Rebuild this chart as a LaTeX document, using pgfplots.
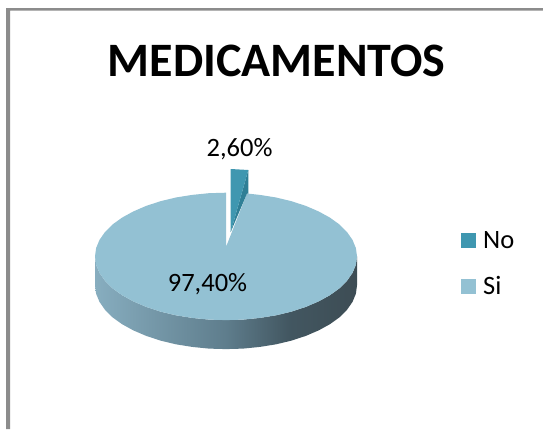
\documentclass[border=0pt]{standalone}
\usepackage{pgfplots}
\usepackage{fontspec}
\setmainfont{Carlito}
\pgfplotsset{compat=1.18}
\definecolor{cborder}{HTML}{8C8C8C}
\definecolor{cno}{HTML}{3F97B0}
\definecolor{cnodark}{HTML}{2F7F96}
\definecolor{csi}{HTML}{93C1D3}
\pgfdeclarehorizontalshading{piesidegrad}{100bp}{
  rgb(0bp)=(0.53,0.68,0.75);
  rgb(25bp)=(0.53,0.68,0.75);
  rgb(50bp)=(0.37,0.49,0.55);
  rgb(62bp)=(0.26,0.34,0.38);
  rgb(75bp)=(0.24,0.30,0.33);
  rgb(100bp)=(0.24,0.30,0.33)
}
\begin{document}
\begin{tikzpicture}
\begin{axis}[
  scale only axis, width=543pt, height=429pt,
  xmin=0, xmax=543, ymin=0, ymax=429, y dir=reverse,
  hide axis, clip=false,
  legend style={draw=none, fill=none, at={(axis cs:461,229)}, anchor=north west,
    font=\fontsize{26.5}{30}\selectfont, row sep=23pt, inner sep=0pt},
  legend cell align=left,
  legend image code/.code={\fill[#1] (0pt,-7.5pt) rectangle (15pt,7.5pt); \path (20pt,0pt);},
]
% page
\addplot[forget plot, draw=none, fill=white] coordinates {(0,0) (543,0) (543,429) (0,429)} -- cycle;
% chart frame
\addplot[forget plot, draw=none, fill=cborder] coordinates {(6,429) (6,8) (543,8) (543,10.5) (10,10.5) (10,429)} -- cycle;
% side of the pie
\addplot[forget plot, draw=none, shading=piesidegrad] coordinates {
(95,256.4) (96.1,264.7) (99.5,272.9) (105,280.8) (112.5,288.3) (122.1,295.2) (133.4,301.4) (146.2,306.9)
(160.5,311.6) (175.9,315.3) (192.1,317.9) (208.9,319.6) (226,320.1) (243.1,319.6) (259.9,317.9) (276.1,315.3)
(291.5,311.6) (305.8,306.9) (318.6,301.4) (329.9,295.2) (339.5,288.3) (347,280.8) (352.5,272.9) (355.9,264.7) (357,256.4)
(357,285.4) (355.9,293.7) (352.5,301.9) (347,309.8) (339.5,317.3) (329.9,324.2) (318.6,330.4) (305.8,335.9)
(291.5,340.6) (276.1,344.3) (259.9,346.9) (243.1,348.6) (226,349.1) (208.9,348.6) (192.1,346.9) (175.9,344.3)
(160.5,340.6) (146.2,335.9) (133.4,330.4) (122.1,324.2) (112.5,317.3) (105,309.8) (99.5,301.9) (96.1,293.7) (95,285.4)
} -- cycle;
% Si slice, top face
\addplot[forget plot, draw=none, fill=csi] coordinates {
(226,247) (226,192.7) (208.9,193.2) (192.1,194.9) (175.9,197.5) (160.5,201.2) (146.2,205.9) (133.4,211.4) (122.1,217.6)
(112.5,224.5) (105,232) (99.5,239.9) (96.1,248.1) (95,256.4) (96.1,264.7) (99.5,272.9) (105,280.8) (112.5,288.3)
(122.1,295.2) (133.4,301.4) (146.2,306.9) (160.5,311.6) (175.9,315.3) (192.1,317.9) (208.9,319.6) (226,320.1)
(243.1,319.6) (259.9,317.9) (276.1,315.3) (291.5,311.6) (305.8,306.9) (318.6,301.4) (329.9,295.2) (339.5,288.3)
(347,280.8) (352.5,272.9) (355.9,264.7) (357,256.4) (355.9,248.1) (352.5,239.9) (347,232) (339.5,224.5) (329.9,217.6)
(318.6,211.4) (305.8,205.9) (291.5,201.2) (276.1,197.5) (259.9,194.9) (247,193.5)
} -- cycle;
% No slice
\addplot[forget plot, draw=none, fill=cnodark] coordinates {(248.3,170) (248.3,193.5) (247,193.5) (230.7,232)} -- cycle;
\addplot[forget plot, draw=none, fill=cno] coordinates {(230.7,169) (248.3,170) (230.7,232)} -- cycle;
% legend
\addlegendimage{fill=cno, draw=none}
\addlegendentry{No}
\addlegendimage{fill=csi, draw=none}
\addlegendentry{Si}
% text
\node[font=\fontsize{48}{52}\selectfont\bfseries, anchor=center] at (axis cs:276.5,61) {MEDICAMENTOS};
\node[font=\fontsize{26.5}{30}\selectfont, anchor=center] at (axis cs:239.5,149.5) {2,60\%};
\node[font=\fontsize{26.5}{30}\selectfont, anchor=center] at (axis cs:207.5,284) {97,40\%};
\end{axis}
\end{tikzpicture}
\end{document}
